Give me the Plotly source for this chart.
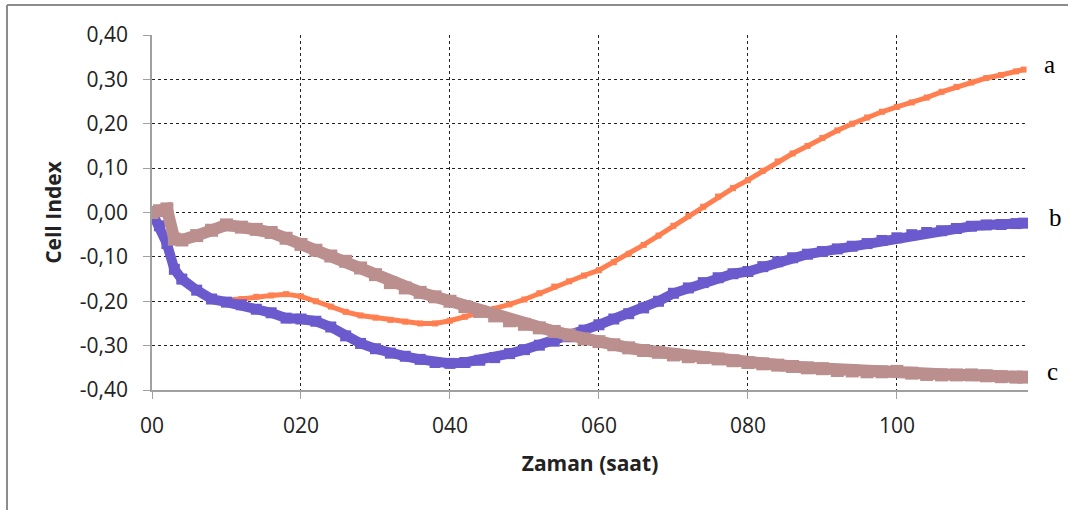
import plotly.graph_objects as go

# time (hours)
time_h = [0, 1, 2, 3, 4, 6, 8, 10, 12, 14, 16, 18, 20, 22, 24, 26, 28, 30, 32, 34, 36, 38,
          40, 42, 44, 46, 48, 50, 52, 54, 56, 58, 60, 62, 64, 66, 68, 70, 72, 74, 76, 78,
          80, 82, 84, 86, 88, 90, 92, 94, 96, 98, 100, 102, 104, 106, 108, 110, 112, 114, 116, 117]

series_a = [0.00, -0.03, -0.08, -0.13, -0.155, -0.178, -0.192, -0.197, -0.195, -0.19, -0.187, -0.184,
            -0.189, -0.20, -0.212, -0.224, -0.232, -0.237, -0.242, -0.246, -0.25, -0.25,
            -0.244, -0.235, -0.226, -0.217, -0.207, -0.196, -0.182, -0.167, -0.155, -0.142,
            -0.13, -0.112, -0.093, -0.073, -0.052, -0.03, -0.008, 0.013, 0.036, 0.055,
            0.073, 0.094, 0.115, 0.133, 0.15, 0.168, 0.185, 0.20, 0.214, 0.227,
            0.238, 0.248, 0.259, 0.272, 0.283, 0.293, 0.303, 0.31, 0.318, 0.322]

series_b = [0.00, -0.03, -0.07, -0.128, -0.15, -0.175, -0.195, -0.202, -0.208, -0.218, -0.226, -0.238,
            -0.24, -0.245, -0.258, -0.278, -0.295, -0.307, -0.317, -0.324, -0.331, -0.338,
            -0.34, -0.338, -0.333, -0.327, -0.318, -0.309, -0.299, -0.29, -0.28, -0.265,
            -0.253, -0.24, -0.228, -0.215, -0.20, -0.182, -0.17, -0.158, -0.147, -0.138,
            -0.133, -0.122, -0.111, -0.102, -0.094, -0.088, -0.082, -0.076, -0.07, -0.063,
            -0.057, -0.05, -0.045, -0.041, -0.036, -0.031, -0.028, -0.027, -0.025, -0.024]

series_c = [0.00, 0.004, 0.008, -0.06, -0.062, -0.052, -0.04, -0.028, -0.033, -0.038, -0.045, -0.058,
            -0.072, -0.085, -0.098, -0.11, -0.125, -0.14, -0.158, -0.17, -0.18, -0.19,
            -0.20, -0.212, -0.223, -0.233, -0.244, -0.252, -0.26, -0.268, -0.276, -0.285,
            -0.291, -0.298, -0.305, -0.311, -0.315, -0.321, -0.325, -0.327, -0.33, -0.334,
            -0.338, -0.341, -0.344, -0.347, -0.35, -0.352, -0.356, -0.357, -0.359, -0.359,
            -0.358, -0.362, -0.365, -0.366, -0.366, -0.366, -0.368, -0.37, -0.371, -0.371]

y_ticks = [-0.4, -0.3, -0.2, -0.1, 0.0, 0.1, 0.2, 0.3, 0.4]
y_labels = ["-0,40", "-0,30", "-0,20", "-0,10", "0,00", "0,10", "0,20", "0,30", "0,40"]
x_ticks = [0, 20, 40, 60, 80, 100]
x_labels = ["00", "020", "040", "060", "080", "100"]
series_names = ["a", "b", "c"]
colors = ["#FF7F50", "#6A5ACD", "#BC8F8F"]

fig = go.Figure()
widths = [5, 10, 12]
for name, ys, col, w in zip(series_names, [series_a, series_b, series_c], colors, widths):
    fig.add_trace(go.Scatter(x=time_h, y=ys, mode="lines+markers", name=name,
                             line=dict(color=col, width=w),
                             marker=dict(symbol="square", size=w + 1, color=col, line=dict(width=0)),
                             showlegend=False))

fig.update_layout(
    width=1073, height=510,
    margin=dict(l=152, r=45, t=35, b=120),
    paper_bgcolor="white", plot_bgcolor="white",
    font=dict(family="Open Sans", color="#222"),
)
fig.update_xaxes(range=[0, 117.6], tickvals=x_ticks, ticktext=x_labels,
                 showgrid=True, gridcolor="#222", griddash="dot", gridwidth=1,
                 showline=True, linecolor="#a0a0a0", linewidth=1.5,
                 ticks="outside", ticklen=7, tickcolor="#a0a0a0",
                 ticklabelstandoff=9,
                 tickfont=dict(size=21, family="Open Sans", color="#222"),
                 zeroline=False,
                 title=dict(text="<b>Zaman (saat)</b>", font=dict(size=21, family="Open Sans", color="#222"), standoff=18))
fig.update_yaxes(range=[-0.4, 0.4], tickvals=y_ticks, ticktext=y_labels,
                 showgrid=True, gridcolor="#222", griddash="dot", gridwidth=1,
                 showline=True, linecolor="#a0a0a0", linewidth=1.5,
                 ticks="outside", ticklen=7, tickcolor="#a0a0a0",
                 ticklabelstandoff=11,
                 tickfont=dict(size=21, family="Open Sans", color="#222"),
                 zeroline=False,
                 title=dict(text="<b>Cell Index</b>", font=dict(size=21, family="Open Sans", color="#222"), standoff=12))

# letters a, b, c
letter_y = [0.333, -0.012, -0.358]
for name, yv, px in zip(series_names, letter_y, [1049, 1055, 1052]):
    fig.add_annotation(x=(px - 152) / 876, xref="paper", y=yv, yref="y", text=name,
                       showarrow=False, xanchor="center", yanchor="middle",
                       font=dict(family="Liberation Serif", size=25, color="black"))

# outer frame (top and left edges)
fig.add_shape(type="line", xref="paper", yref="paper", x0=(7 - 152) / 876, x1=(1068 - 152) / 876,
              y0=(390 - 5) / 355, y1=(390 - 5) / 355, line=dict(color="#8c8c8c", width=2))
fig.add_shape(type="line", xref="paper", yref="paper", x0=(7 - 152) / 876, x1=(7 - 152) / 876,
              y0=(390 - 5) / 355, y1=(390 - 512) / 355, line=dict(color="#8c8c8c", width=2))

fig.write_html("out.html")
